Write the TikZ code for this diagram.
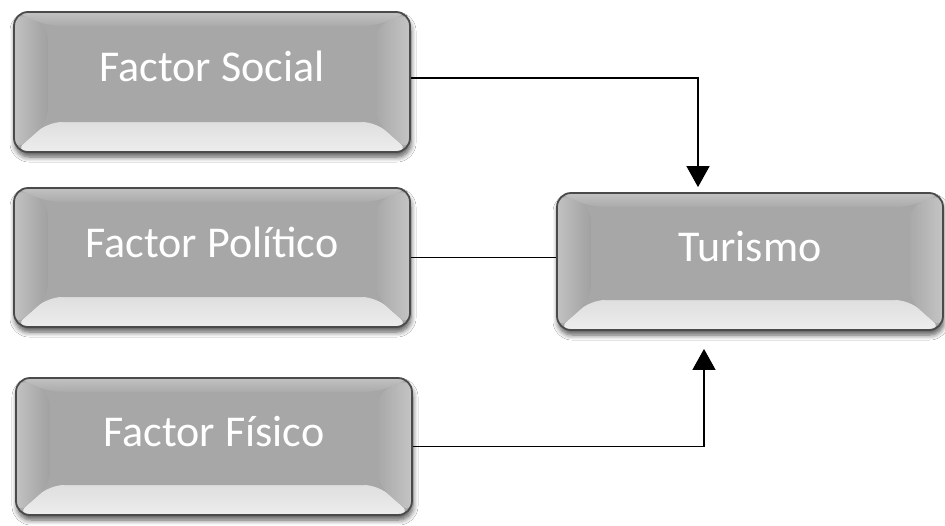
\documentclass[tikz,border=0pt]{standalone}
\usepackage{fontspec}
\setmainfont{Carlito}
\usetikzlibrary{arrows.meta,shadows.blur}
\definecolor{face}{HTML}{A7A7A7}
\definecolor{rim}{HTML}{4A4A4A}
\tikzset{
  bevelbox/.style={
    rounded corners=14pt, draw=rim, line width=1.8pt, fill=face,
    minimum width=#1, inner sep=2pt,
    text=white, font=\fontsize{44}{50}\selectfont,
    text height=30pt, text depth=31pt,
    blur shadow={shadow xshift=1pt, shadow yshift=-5pt, shadow blur steps=6, shadow blur radius=5pt, shadow opacity=65},
    path picture={
      \def\s{34pt}\def\t{14pt}\def\b{30pt}
      \shade[top color=black!33, bottom color=black!7]
        (path picture bounding box.south west) -- (path picture bounding box.south east)
        -- ([xshift=-\s,yshift=\b]path picture bounding box.south east)
        -- ([xshift=\s,yshift=\b]path picture bounding box.south west) -- cycle;
      \shade[left color=black!24, right color=black!37]
        (path picture bounding box.south west) -- ([xshift=\s,yshift=\b]path picture bounding box.south west)
        -- ([xshift=\s,yshift=-\t]path picture bounding box.north west)
        -- (path picture bounding box.north west) -- cycle;
      \shade[left color=black!34, right color=black!23]
        (path picture bounding box.south east) -- ([xshift=-\s,yshift=\b]path picture bounding box.south east)
        -- ([xshift=-\s,yshift=-\t]path picture bounding box.north east)
        -- (path picture bounding box.north east) -- cycle;
      \shade[top color=black!24, bottom color=black!33]
        (path picture bounding box.north west) -- ([xshift=\s,yshift=-\t]path picture bounding box.north west)
        -- ([xshift=-\s,yshift=-\t]path picture bounding box.north east)
        -- (path picture bounding box.north east) -- cycle;
      \fill[face] ([xshift=\s,yshift=\b]path picture bounding box.south west)
        rectangle ([xshift=-\s,yshift=-\t]path picture bounding box.north east);
    }
  },
  link/.style={draw=black, line width=1.3pt},
  tip/.style={-{Triangle[length=21pt,width=23pt]}}
}
\begin{document}
\begin{tikzpicture}[x=1pt,y=-1pt]
\useasboundingbox[fill=white] (0,0) rectangle (945,525);
\node[bevelbox=396pt, minimum height=140pt] (social) at (212,82) {Factor Social};
\node[bevelbox=396pt, minimum height=139pt] (politico) at (212,257.5) {Factor Político};
\node[bevelbox=396pt, minimum height=137pt] (fisico) at (214,446.5) {Factor Físico};
\node[bevelbox=386pt, minimum height=137pt] (turismo) at (750,261.5) {Turismo};
\draw[link,tip] ([yshift=4pt]social.east) -| ([xshift=-52pt,yshift=5pt]turismo.north);
\draw[link] (politico.east) -- (turismo.west |- politico.east);
\draw[link,tip] (fisico.east) -| ([xshift=-46pt,yshift=-18pt]turismo.south);
\end{tikzpicture}
\end{document}
